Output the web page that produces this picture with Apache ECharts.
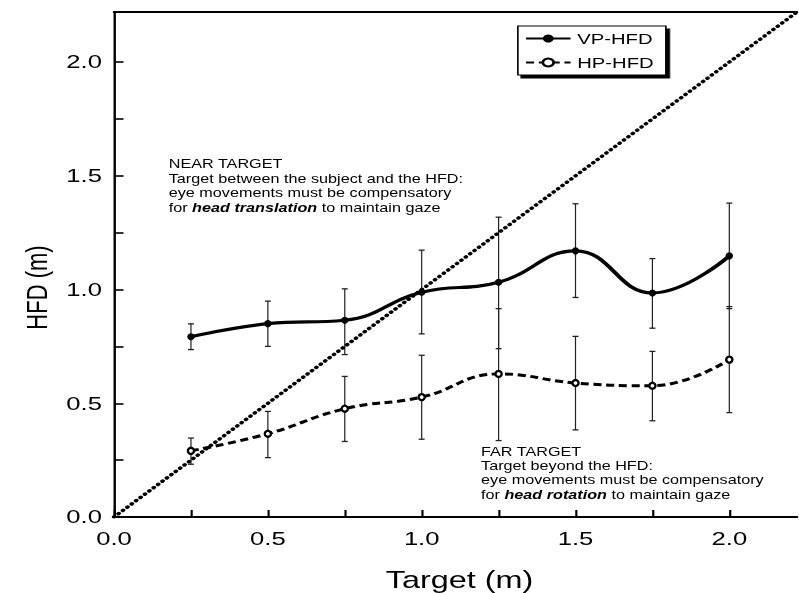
<!DOCTYPE html>
<html>
<head>
<meta charset="utf-8">
<script src="https://cdn.jsdelivr.net/npm/echarts@6/dist/echarts.min.js"></script>
<style>
html,body{margin:0;padding:0;background:#fff;overflow:hidden;width:799px;height:593px;}
#wrap{position:absolute;left:0;top:0;width:592px;height:593px;transform:scaleX(1.3497);transform-origin:0 0;}
</style>
</head>
<body>
<div id="wrap"></div>
<script>
// ---- data ----
const targets = [0.25, 0.5, 0.75, 1.0, 1.25, 1.5, 1.75, 2.0];
const vpMean  = [0.792, 0.850, 0.865, 0.988, 1.032, 1.170, 0.985, 1.148];
const vpHigh  = [0.849, 0.949, 1.003, 1.173, 1.318, 1.377, 1.136, 1.380];
const vpLow   = [0.736, 0.750, 0.714, 0.805, 0.740, 0.965, 0.830, 0.916];
const hpMean  = [0.291, 0.366, 0.476, 0.527, 0.629, 0.589, 0.577, 0.692];
const hpHigh  = [0.347, 0.464, 0.618, 0.711, 0.916, 0.794, 0.728, 0.925];
const hpLow   = [0.232, 0.261, 0.332, 0.342, 0.336, 0.383, 0.423, 0.459];
const identityLine = [0, 2.22];           // y = x reference line
const tickValues  = [0, 0.25, 0.5, 0.75, 1.0, 1.25, 1.5, 1.75, 2.0];
const labelValues = [0, 0.5, 1.0, 1.5, 2.0];
const axisMax = 2.22;
const nearText = ['NEAR TARGET', 'Target between the subject and the HFD:',
  'eye movements must be compensatory', 'for {b|head translation} to maintain gaze'];
const farText = ['FAR TARGET', 'Target beyond the HFD:',
  'eye movements must be compensatory', 'for {b|head rotation} to maintain gaze'];

const FONT = 'Liberation Sans, Arial, sans-serif';

function errorSeries(name, lows, highs) {
  return {
    type: 'custom', name: name, silent: true, z: 1,
    data: targets.map((t, i) => [t, lows[i], highs[i]]),
    encode: { x: 0, y: [1, 2] },
    renderItem: function (params, api) {
      const x = api.value(0);
      const lo = api.coord([x, api.value(1)]);
      const hi = api.coord([x, api.value(2)]);
      const hw = 2.2;
      const st = { stroke: '#222', lineWidth: 0.9 };
      return { type: 'group', children: [
        { type: 'line', shape: { x1: lo[0], y1: lo[1], x2: hi[0], y2: hi[1] }, style: st },
        { type: 'line', shape: { x1: lo[0] - hw, y1: lo[1], x2: lo[0] + hw, y2: lo[1] }, style: { stroke: '#222', lineWidth: 1.3 } },
        { type: 'line', shape: { x1: hi[0] - hw, y1: hi[1], x2: hi[0] + hw, y2: hi[1] }, style: { stroke: '#222', lineWidth: 1.3 } }
      ]};
    }
  };
}

const chart = echarts.init(document.getElementById('wrap'), null, { renderer: 'svg', width: 592, height: 593 });

const valueAxisCommon = {
  type: 'value', min: 0, max: axisMax,
  splitLine: { show: false },
  axisLine: { show: true, onZero: false, lineStyle: { color: '#000', width: 2 } },
  axisTick: { show: true, inside: true, length: 7, customValues: tickValues, lineStyle: { color: '#000', width: 1.6 } },
  axisLabel: { customValues: labelValues, formatter: v => v.toFixed(1), color: '#000', fontSize: 19, fontFamily: FONT }
};

chart.setOption({
  animation: false,
  backgroundColor: '#fff',
  grid: { left: 84.5, right: 1.5, top: 12, bottom: 76, containLabel: false, outerBoundsMode: 'none' },
  xAxis: [
    Object.assign({}, valueAxisCommon, {
      position: 'bottom',
      axisLabel: Object.assign({}, valueAxisCommon.axisLabel, { margin: 12 }),
      name: 'Target (m)', nameLocation: 'middle', nameGap: 51,
      nameTextStyle: { fontSize: 24, color: '#000', fontFamily: FONT, padding: [0, 0, 0, 6] }
    }),
    { type: 'value', min: 0, max: axisMax, position: 'top',
      axisLine: { show: true, onZero: false, lineStyle: { color: '#000', width: 2 } },
      axisTick: { show: false }, axisLabel: { show: false }, splitLine: { show: false } }
  ],
  yAxis: Object.assign({}, valueAxisCommon, {
    axisLine: { show: true, onZero: false, lineStyle: { color: '#000', width: 1.8 } },
    axisLabel: Object.assign({}, valueAxisCommon.axisLabel, { margin: 9 }),
    name: 'HFD (m)', nameLocation: 'middle', nameGap: 44, nameRotate: 90,
    nameTextStyle: { fontSize: 22, color: '#000', fontFamily: FONT, padding: [0, 46, 0, 0] }
  }),
  legend: {
    data: ['VP-HFD', 'HP-HFD'], orient: 'vertical', left: 383.7, top: 26,
    padding: [5, 9, 5, 5], itemGap: 9, itemWidth: 33, itemHeight: 10,
    backgroundColor: '#fff', borderColor: '#000', borderWidth: 1.2, borderRadius: 0,
    shadowColor: '#000', shadowBlur: 0, shadowOffsetX: 2.5, shadowOffsetY: 3,
    textStyle: { fontSize: 15, color: '#000', fontFamily: FONT }
  },
  graphic: [
    { type: 'text', left: 125, top: 157, z: 50,
      style: { text: nearText.join('\n'), fill: '#000', fontSize: 12, fontFamily: FONT, lineHeight: 14.5,
        rich: { b: { fontSize: 12, fontFamily: FONT, fontWeight: 'bold', fontStyle: 'italic', fill: '#000', lineHeight: 14.5 } } } },
    { type: 'text', left: 356.4, top: 444.5, z: 50,
      style: { text: farText.join('\n'), fill: '#000', fontSize: 12, fontFamily: FONT, lineHeight: 14.3,
        rich: { b: { fontSize: 12, fontFamily: FONT, fontWeight: 'bold', fontStyle: 'italic', fill: '#000', lineHeight: 14.3 } } } }
  ],
  series: [
    errorSeries('VP-HFD SD', vpLow, vpHigh),
    errorSeries('HP-HFD SD', hpLow, hpHigh),
    { type: 'line', name: 'identity', data: identityLine.map(v => [v, v]), symbol: 'none', silent: true, z: 2,
      lineStyle: { color: '#000', width: 3.2, type: [0.4, 4.2], cap: 'round' } },
    { type: 'line', name: 'VP-HFD', data: targets.map((t, i) => [t, vpMean[i]]), smooth: 0.45, z: 3,
      symbol: 'circle', symbolSize: [5.5, 7],
      itemStyle: { color: '#000' },
      lineStyle: { color: '#000', width: 3.2 } },
    { type: 'line', name: 'HP-HFD', data: targets.map((t, i) => [t, hpMean[i]]), smooth: 0.45, z: 3,
      symbol: 'emptyCircle', symbolSize: [4.6, 6],
      itemStyle: { color: '#000', borderWidth: 0.8, borderColor: '#000' },
      lineStyle: { color: '#000', width: 3, type: [6, 3.5] } }
  ]
});
</script>
</body>
</html>
